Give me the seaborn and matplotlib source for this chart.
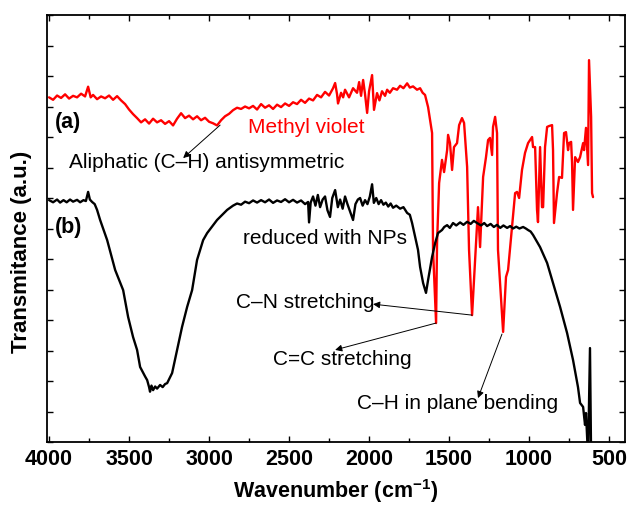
import numpy as np
import pandas as pd
import seaborn as sns
import matplotlib
matplotlib.use("Agg")
import matplotlib.pyplot as plt
from matplotlib.ticker import MultipleLocator, NullFormatter

# ---- data ----
# (a) Methyl violet
wn_a = [4000, 3975, 3950, 3925, 3900, 3875, 3850, 3825, 3800, 3775, 3756, 3740, 3725, 3700,
        3675, 3650, 3625, 3600, 3575, 3550, 3525, 3500, 3475, 3450, 3425, 3400, 3375, 3350,
        3325, 3300, 3275, 3250, 3225, 3200, 3175, 3150, 3125, 3100, 3075, 3050, 3025, 3000,
        2975, 2950, 2925, 2900, 2875, 2850, 2825, 2800, 2775, 2750, 2725, 2700, 2675, 2650,
        2625, 2600, 2575, 2550, 2525, 2500, 2475, 2450, 2425, 2400, 2375, 2350, 2325, 2300,
        2275, 2250, 2225, 2212, 2200, 2194, 2175, 2162, 2150, 2125, 2100, 2075, 2062, 2050,
        2037, 2025, 2012, 2000, 1981, 1969, 1950, 1935, 1919, 1900, 1887, 1870, 1850, 1825,
        1806, 1785, 1762, 1745, 1725, 1700, 1681, 1665, 1650, 1631, 1606,
        1600, 1581, 1575, 1562, 1544, 1531, 1512, 1506, 1494, 1481, 1469, 1450, 1437, 1419,
        1406, 1387, 1375, 1356, 1344, 1331, 1319, 1306, 1287, 1269, 1256, 1244, 1231, 1225,
        1212, 1200, 1194, 1162, 1144, 1131, 1106, 1087, 1075, 1062, 1044, 1025, 1006, 981,
        975, 962, 950, 944, 931, 919, 912, 900, 887, 875, 856, 850, 844, 825, 812, 794,
        781, 769, 756, 750, 737, 731, 725, 712, 694, 681, 662, 656, 644, 631, 625, 612,
        606, 600]
t_a = [11.30, 11.22, 11.36, 11.28, 11.40, 11.26, 11.35, 11.30, 11.42, 11.33, 11.65, 11.30, 11.38, 11.24,
       11.33, 11.27, 11.36, 11.22, 11.34, 11.20, 11.08, 10.90, 10.75, 10.62, 10.48, 10.58, 10.44, 10.60,
       10.48, 10.55, 10.43, 10.52, 10.38, 10.60, 10.78, 10.62, 10.70, 10.58, 10.68, 10.55, 10.63, 10.50,
       10.45, 10.38, 10.55, 10.68, 10.76, 10.88, 10.96, 10.92, 11.00, 10.94, 11.02, 10.90, 11.08, 10.96,
       11.04, 10.92, 11.06, 10.98, 11.10, 11.02, 11.14, 11.08, 11.22, 11.12, 11.26, 11.20, 11.38, 11.30,
       11.48, 11.36, 11.60, 11.77, 11.40, 11.10, 11.45, 11.30, 11.55, 11.30, 11.60, 11.45, 11.80, 11.35,
       11.87, 11.40, 10.79, 11.50, 12.03, 10.89, 11.44, 11.20, 11.50, 11.35, 11.55, 11.45, 11.60, 11.55,
       11.68, 11.60, 11.76, 11.62, 11.66, 11.55, 11.60, 11.45, 11.38, 10.98, 10.13,
       6.30, 3.90, 6.52, 8.49, 9.25, 8.85, 9.57, 10.07, 9.80, 8.92, 9.67, 9.80, 10.39, 10.62,
       10.46, 9.02, 6.30, 4.16, 5.31, 6.62, 7.70, 6.39, 8.69, 9.34, 9.90, 9.97, 9.41, 10.33,
       10.66, 10.13, 6.30, 3.61, 5.41, 5.64, 7.05, 8.16, 8.20, 8.00, 8.92, 9.48, 9.80, 10.00,
       9.67, 9.67, 7.61, 7.21, 9.67, 7.70, 7.70, 9.67, 10.33, 10.36, 10.39, 9.57, 7.18, 8.16, 8.69, 8.66,
       10.13, 10.16, 9.57, 9.80, 9.84, 9.15, 7.61, 9.34, 9.18, 9.34, 9.80, 9.57, 10.30, 9.08, 12.52, 10.66,
       8.16, 8.03]

# (b) reduced with NPs
wn_b = [4000, 3975, 3950, 3931, 3910, 3890, 3869, 3850, 3825, 3806, 3785, 3770, 3756, 3745,
        3731, 3715, 3700, 3681, 3637, 3587, 3537, 3506, 3475, 3450, 3431, 3400, 3387, 3375,
        3369, 3360, 3350, 3337, 3325, 3306, 3290, 3275, 3262, 3231, 3200, 3169, 3137, 3106,
        3075, 3056, 3037, 3012, 2950, 2887, 2850, 2825, 2800, 2775, 2750, 2725, 2700, 2675,
        2650, 2625, 2600, 2575, 2550, 2525, 2500, 2475, 2450, 2425, 2400, 2381, 2375, 2365,
        2350, 2335, 2320, 2306, 2290, 2275, 2260, 2244, 2230, 2212, 2195, 2181, 2165, 2150,
        2135, 2118, 2100, 2085, 2070, 2056, 2040, 2025, 2010, 1995, 1981, 1970, 1955, 1940,
        1925, 1910, 1895, 1880, 1865, 1850, 1830, 1806, 1785, 1762, 1745, 1731, 1712, 1694,
        1681, 1662, 1644, 1631, 1606, 1587, 1569, 1544, 1530, 1512, 1495, 1475, 1455, 1431,
        1410, 1387, 1365, 1345, 1325, 1300, 1280, 1262, 1240, 1220, 1200, 1180, 1160, 1137,
        1118, 1100, 1080, 1060, 1037, 1020, 1006, 990, 975, 931, 887, 850, 806, 762,
        725, 694, 681, 662, 650, 644, 631, 619, 612, 606]
t_b = [7.93, 7.86, 7.95, 7.85, 7.93, 7.86, 7.95, 7.88, 7.94, 7.86, 7.93, 7.90, 8.20, 7.95,
       7.87, 7.80, 7.61, 7.28, 6.62, 5.64, 4.98, 4.10, 3.44, 3.02, 2.46, 2.15, 2.03, 1.80,
       1.65, 1.85, 1.70, 1.82, 1.75, 1.87, 1.80, 1.90, 1.93, 2.26, 3.02, 3.77, 4.43, 4.98,
       5.97, 6.30, 6.62, 6.85, 7.28, 7.61, 7.75, 7.82, 7.78, 7.88, 7.83, 7.92, 7.85, 7.93,
       7.86, 7.95, 7.84, 7.92, 7.87, 7.96, 7.86, 7.94, 7.85, 7.92, 7.80, 7.87, 7.20, 7.85,
       8.05, 7.75, 8.10, 7.70, 7.95, 8.05, 7.60, 7.38, 8.00, 8.26, 7.70, 7.95, 7.65, 8.05,
       7.80, 7.55, 7.28, 7.80, 7.95, 8.00, 7.75, 7.93, 7.80, 8.05, 8.45, 7.84, 8.00, 7.80,
       7.93, 7.78, 7.85, 7.72, 7.82, 7.68, 7.75, 7.65, 7.70, 7.51, 7.45, 7.18, 6.72, 6.30,
       5.74, 5.21, 4.89, 5.31, 6.07, 6.52, 6.85, 6.95, 7.05, 7.11, 7.02, 7.18, 7.10, 7.20,
       7.12, 7.22, 7.15, 7.25, 7.18, 7.10, 7.18, 7.08, 7.15, 7.05, 7.12, 7.02, 7.10, 7.02,
       7.08, 7.00, 7.06, 7.00, 7.05, 7.00, 6.95, 6.90, 6.79, 6.39, 5.87, 5.21, 4.43, 3.57,
       2.69, 1.80, 1.28, 1.15, 0.56, 0.95, -0.5, 3.08, -0.5, -0.5]

x_ticks = [4000, 3500, 3000, 2500, 2000, 1500, 1000, 500]

df_a = pd.DataFrame({"wn": wn_a, "T": t_a})
df_b = pd.DataFrame({"wn": wn_b, "T": t_b})

# ---- style ----
sns.set_theme(style="ticks")
plt.rcParams["font.family"] = ["Liberation Sans", "DejaVu Sans"]
plt.rcParams["mathtext.fontset"] = "custom"
plt.rcParams["mathtext.rm"] = "Liberation Sans"
plt.rcParams["mathtext.bf"] = "Liberation Sans:bold"
for k in ["text.color", "axes.labelcolor", "xtick.color", "ytick.color", "axes.edgecolor"]:
    plt.rcParams[k] = "black"

fig = plt.figure(figsize=(6.3, 5.07), dpi=100)
ax = fig.add_axes([0.0741, 0.1282, 0.9921 - 0.0741, 0.9704 - 0.1282])

sns.lineplot(data=df_a, x="wn", y="T", ax=ax, color="#ff0000", lw=1.7,
             estimator=None, sort=False)
sns.lineplot(data=df_b, x="wn", y="T", ax=ax, color="black", lw=1.7,
             estimator=None, sort=False)

ax.set_xlim(4015, 400)
ax.set_ylim(0, 14)
ax.set_xticks(x_ticks)
ax.set_xticklabels([str(v) for v in x_ticks], fontweight="bold", fontsize=15.5)
ax.xaxis.set_minor_locator(MultipleLocator(250))
ax.yaxis.set_major_locator(MultipleLocator(1))
ax.yaxis.set_major_formatter(NullFormatter())
ax.tick_params(axis="both", which="both", direction="in", top=True, right=True,
               color="black", width=1.0)
ax.tick_params(which="major", length=4, pad=5)
ax.tick_params(which="minor", length=3)
for s in ax.spines.values():
    s.set_color("black")
    s.set_linewidth(1.3)

ax.set_xlabel(r"Wavenumber (cm$^{\mathbf{-1}}$)", fontsize=15.5, fontweight="bold", labelpad=5)
ax.set_ylabel("Transmitance (a.u.)", fontsize=16, fontweight="bold")
ax.yaxis.set_label_coords(-0.026, 0.445)

# ---- labels and annotations ----
fs = 15
ax.text(3962, 10.49, "(a)", fontsize=15.5, fontweight="bold", ha="left", va="center")
ax.text(3962, 7.02, "(b)", fontsize=15.5, fontweight="bold", ha="left", va="center")
ax.text(2756, 10.30, "Methyl violet", fontsize=fs, color="#ff0000", ha="left", va="center")
ax.text(3875, 9.18, "Aliphatic (C\u2013H) antisymmetric", fontsize=fs, ha="left", va="center")
ax.text(2787, 6.66, "reduced with NPs", fontsize=fs, ha="left", va="center")
ax.text(2831, 4.59, "C\u2013N stretching", fontsize=fs, ha="left", va="center")
ax.text(2600, 2.69, "C=C stretching", fontsize=fs, ha="left", va="center")
ax.text(2075, 1.25, "C\u2013H in plane bending", fontsize=fs, ha="left", va="center")

arrow = dict(arrowstyle="-|>", color="black", lw=0.7, mutation_scale=10,
             shrinkA=0, shrinkB=0)
for (x0, y0), (x1, y1) in [((2931, 10.39), (3162, 9.31)),
                           ((1356, 4.16), (1975, 4.52)),
                           ((1581, 3.90), (2212, 3.02)),
                           ((1169, 3.54), (1319, 1.44))]:
    ax.annotate("", xy=(x1, y1), xytext=(x0, y0), arrowprops=arrow)

fig.savefig("out.png", dpi=100)
